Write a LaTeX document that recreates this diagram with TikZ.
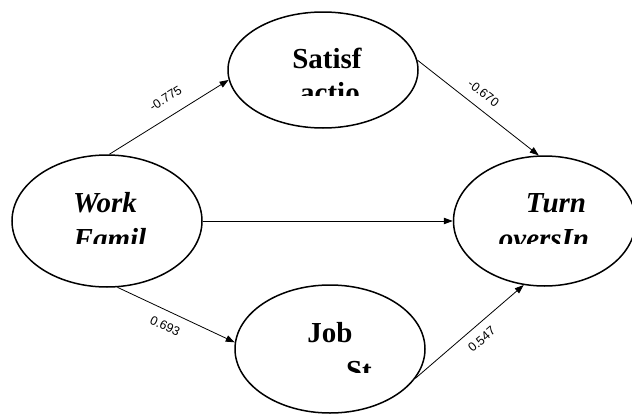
\documentclass[tikz,border=0pt]{standalone}
\usepackage{fontspec}
\setmainfont{Liberation Serif}
\newfontfamily\coeffont{Liberation Sans}
\usetikzlibrary{positioning, shapes, arrows.meta}

\tikzset{
    latent/.style={draw, ellipse, line width=1.5pt, inner sep=0pt},
    vname/.style={anchor=base, font=\fontsize{29}{34}\selectfont\bfseries},
    vnamei/.style={anchor=base, font=\fontsize{29}{34}\selectfont\bfseries\itshape},
    effect/.style={-{Triangle[length=9pt,width=6.5pt]}, line width=0.8pt},
    coef/.style={sloped, inner sep=1pt, font=\coeffont\fontsize{12.5}{14}\selectfont},
}

\begin{document}
\begin{tikzpicture}[x=1pt, y=-1pt]
    \useasboundingbox (0,0) rectangle (632,415);

    \node[
        latent,
        minimum width=190pt,
        minimum height=132pt] (work) at (107,221) {};
    \node[
        latent,
        minimum width=190pt,
        minimum height=116pt] (sat) at (323,70) {};
    \node[
        latent,
        minimum width=182pt,
        minimum height=130pt,
        right=250pt of work] (turn) {};
    \node[
        latent,
        minimum width=190pt,
        minimum height=128pt] (job) at (330,349) {};

    % names, second lines cut off as in the source
    \node[vname] (satA) at (327,68) {Satisf};
    \begin{scope}
        \clip (250,78) rectangle (400,95);
        \node[vname] (satB) at (330,102) {actio};
    \end{scope}

    \node[vnamei] (workA) at (105,212) {Work};
    \begin{scope}
        \clip (50,222) rectangle (170,243);
        \node[vnamei] (workB) at (110,248) {Famil};
    \end{scope}

    \node[vnamei] (turnA) at (556,212) {Turn};
    \begin{scope}
        \clip (480,222) rectangle (610,243);
        \node[vnamei] (turnB) at (544,248) {oversIn};
    \end{scope}

    \node[vname] (jobA) at (330,342) {Job};
    \begin{scope}
        \clip (330,352) rectangle (390,372);
        \node[vname] (jobB) at (359,380) {St};
    \end{scope}

    \draw[effect] (work.88) -- (sat.186)
    node[coef, pos=0.55, above=12pt]{-0.775};
    \draw[effect] (sat.6) -- (turn.95)
    node[coef, pos=0.47, above=9pt]{-0.670};
    \draw[effect] (work.east) -- (turn.west);
    \draw[effect] (work.279) -- (job.176)
    node[coef, pos=0.46, below=9pt]{0.693};
    \draw[effect] (job.341) -- (turn.252)
    node[coef, pos=0.53, below=8pt]{0.547};
\end{tikzpicture}
\end{document}
